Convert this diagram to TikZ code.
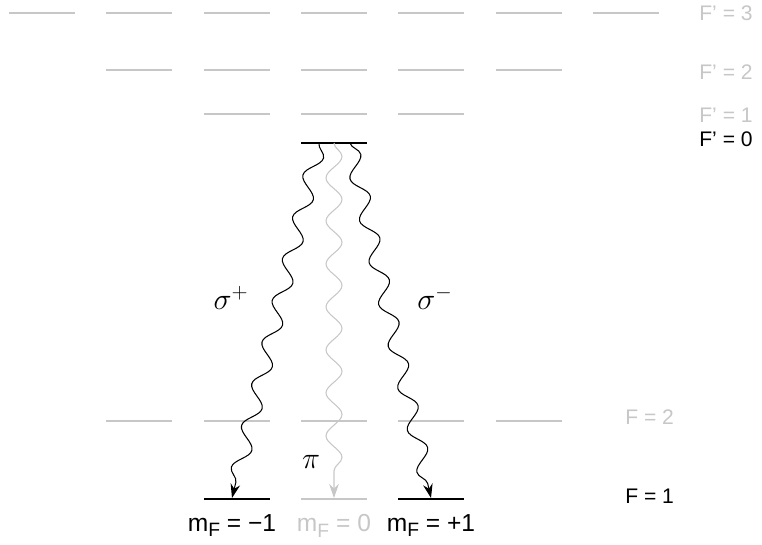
\documentclass[tikz,border=0pt]{standalone}
\usepackage{fontspec}
\setmainfont{Liberation Sans}
\usetikzlibrary{positioning,decorations.pathmorphing,arrows.meta}
\newcommand{\mFsub}{m\raisebox{-0.45ex}{\fontsize{11}{12}\selectfont F}}

\begin{document}
\begin{tikzpicture}[x=0.02cm,y=-0.02cm,
      lvl/.style={line width=1pt,draw=black!22},
      lvlon/.style={line width=1.3pt,draw=black},
      lbl/.style={font=\fontsize{12}{14}\selectfont,anchor=west,inner sep=0pt},
      mlbl/.style={font=\fontsize{14}{16}\selectfont},
      glbl/.style={font=\fontsize{17}{20}\selectfont},
      photon/.style={decorate,decoration={snake,amplitude=0.16cm,segment length=0.86cm,post length=7pt},
        line width=0.6pt,-{Stealth[length=8pt,width=5.5pt]}}]
      \useasboundingbox (0,0) rectangle (762,545);
      % excited levels F' = 3, 2, 1
      \foreach \y/\n in {13/3,70/2,114/1}
        \foreach \m in {-\n,...,\n}
          \draw[lvl] ({334+97.3*\m-33},\y) -- ++(66,0);
      \draw[lvlon] (301,143) -- (367,143);
      % ground levels F = 2, 1
      \foreach \m in {-2,...,2}
        \draw[lvl] ({334+97.3*\m-33},421) -- ++(66,0);
      \draw[lvlon] (204,499) -- ++(66,0);
      \draw[lvl] (301,499) -- ++(66,0);
      \draw[lvlon] (398,499) -- ++(66,0);
      % ends of the transitions
      \coordinate (exc-l) at (319,143);
      \coordinate (exc-c) at (334,143);
      \coordinate (exc-r) at (350,143);
      \coordinate (gnd-l) at (232,498);
      \coordinate (gnd-c) at (334,498);
      \coordinate (gnd-r) at (431,498);
      \draw[photon] (exc-l) -- (gnd-l);
      \draw[photon,black!22] (exc-c) -- (gnd-c);
      \draw[photon] (exc-r) -- (gnd-r);
      \node[glbl] (sp) at (231,298) {$\sigma^+$};
      \node[glbl] (sm) at (435,298) {$\sigma^-$};
      \node[glbl] (pi) at (311,462) {$\pi$};
      % level names
      \node[lbl,black!22] (fp3) at (699,13) {F’ = 3};
      \node[lbl,black!22] (fp2) at (699,72) {F’ = 2};
      \node[lbl,black!22] (fp1) at (699,115) {F’ = 1};
      \node[lbl] (fp0) at (699,139) {F’ = 0};
      \node[lbl,black!22] (f2) at (625,417) {F = 2};
      \node[lbl] (f1) at (625,496) {F = 1};
      \node[mlbl,below=0.2cm of gnd-l] (ml) {\mFsub{} = −1};
      \node[mlbl,black!22,below=0.2cm of gnd-c] (mc) {\mFsub{} = 0};
      \node[mlbl,below=0.2cm of gnd-r] (mr) {\mFsub{} = +1};
    \end{tikzpicture}
\end{document}
